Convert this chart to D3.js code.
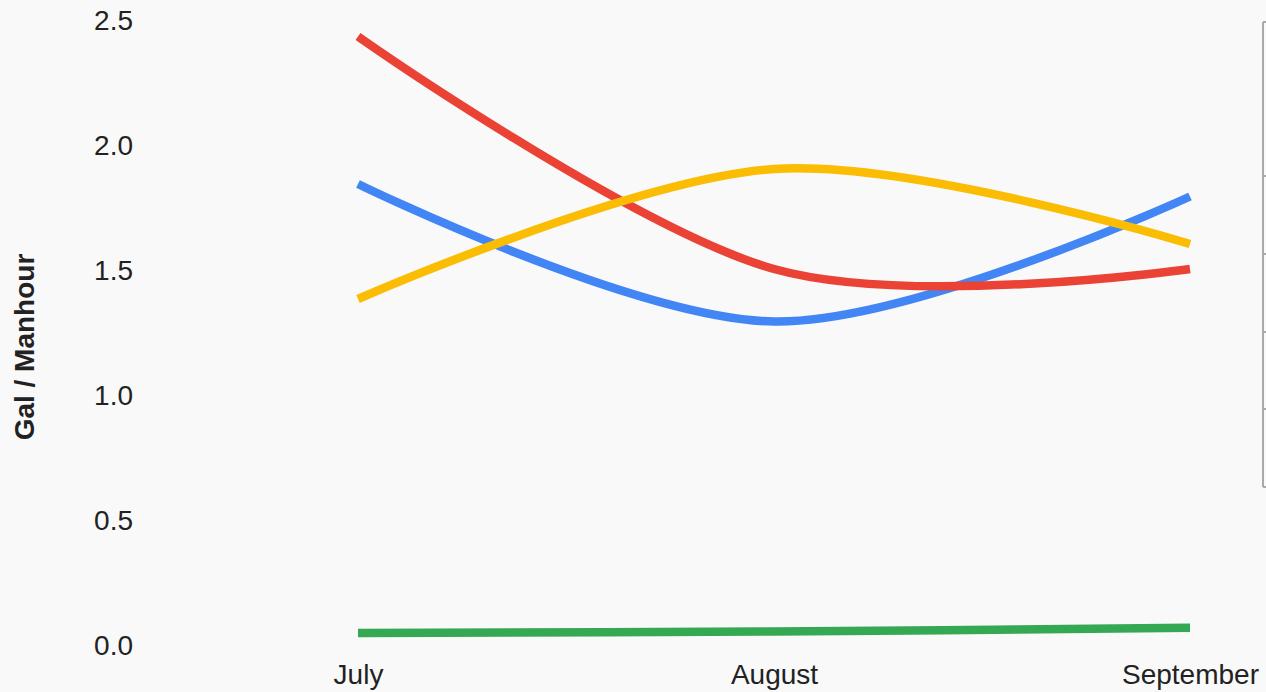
<!DOCTYPE html>
<html>
<head>
<meta charset="utf-8">
<script src="https://cdn.jsdelivr.net/npm/d3@7"></script>
<style>
	html, body { margin: 0; padding: 0; background: #f9f9f9; }
	svg { display: block; font-family: "Liberation Sans", Arial, sans-serif; }
</style>
</head>
<body>
<div id="container"></div>
<script>
const months = ["July", "August", "September"];
const yTicks = [0, 0.5, 1.0, 1.5, 2.0, 2.5];
const seriesColors = ["#4285F4", "#EA4335", "#FBBC04", "#34A853"];
const blueValues = [1.84, 1.29, 1.79];
const redValues = [2.43, 1.50, 1.50];
const yellowValues = [1.38, 1.90, 1.60];
const greenValues = [0.044, 0.05, 0.065];
const sideTicks = [0, 1, 2, 3, 4, 5];

const series = [blueValues, redValues, yellowValues, greenValues];

function drawChart() {
	const width = 1266;
	const height = 692;
	const margin = { top: 19, right: 76, bottom: 48, left: 358 };

	const svg = d3
		.select("#container")
		.append("svg")
		.attr("width", width)
		.attr("height", height);

	svg.append("rect").attr("width", width).attr("height", height).attr("fill", "#f9f9f9");

	const x = d3
		.scalePoint()
		.domain(months)
		.range([margin.left, width - margin.right]);

	const y = d3
		.scaleLinear()
		.domain([0, 2.5])
		.range([height - margin.bottom, margin.top]);

	// y axis labels only
	const yAxis = d3
		.axisLeft(y)
		.tickValues(yTicks)
		.tickFormat(d3.format(".1f"))
		.tickSize(0)
		.tickPadding(0);

	const yg = svg.append("g").attr("transform", "translate(133,0)").call(yAxis);
	yg.select(".domain").remove();
	yg.selectAll("text")
		.attr("font-size", 28)
		.attr("font-family", "Liberation Sans, Arial, sans-serif")
		.attr("fill", "#222")
		.attr("dy", "0.36em");

	// x axis labels
	const xAxis = d3.axisBottom(x).tickSize(0).tickPadding(0);
	const xg = svg.append("g").attr("transform", `translate(0, 684)`).call(xAxis);
	xg.select(".domain").remove();
	xg.selectAll("text")
		.attr("font-size", 28)
		.attr("font-family", "Liberation Sans, Arial, sans-serif")
		.attr("fill", "#222")
		.attr("dy", 0);

	svg.append("text")
		.attr("transform", "translate(34, 347) rotate(-90)")
		.attr("text-anchor", "middle")
		.attr("font-size", 28)
		.attr("font-weight", "bold")
		.attr("fill", "#222")
		.text("Gal / Manhour");

	// cut off legend frame on the right edge
	const side = d3.scaleLinear().domain([0, 5]).range([22, 487]);
	const sideVals = [22, 176, 254, 332, 409, 487];
	const sg = svg.append("g").attr("stroke", "#aaa").attr("stroke-width", 2);
	sg.append("line").attr("x1", 1263).attr("x2", 1263).attr("y1", side(0)).attr("y2", side(5));
	sg.selectAll("line.t")
		.data(sideTicks)
		.enter()
		.append("line")
		.attr("class", "t")
		.attr("x1", 1263)
		.attr("x2", 1268)
		.attr("y1", (d) => sideVals[d])
		.attr("y2", (d) => sideVals[d]);

	const line = d3
		.line()
		.x((d, i) => x(months[i]))
		.y((d) => y(d))
		.curve(d3.curveCatmullRom.alpha(0));

	svg.append("g")
		.selectAll("path")
		.data(series)
		.enter()
		.append("path")
		.attr("d", (d) => line(d))
		.attr("fill", "none")
		.attr("stroke", (d, i) => seriesColors[i])
		.attr("stroke-width", 8.5);
}

drawChart();
</script>
</body>
</html>
